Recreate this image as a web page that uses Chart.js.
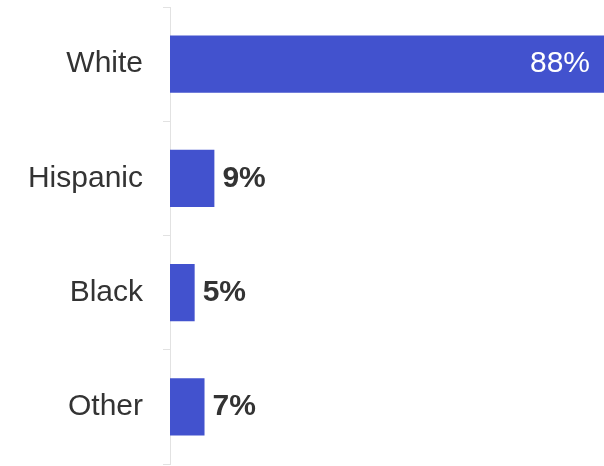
<!DOCTYPE html>
<html>
<head>
<meta charset="utf-8">
<script src="https://cdn.jsdelivr.net/npm/chart.js@4/dist/chart.umd.min.js"></script>
<style>
  html, body { margin: 0; padding: 0; background: #fff; }
  #wrap { width: 604px; height: 466px; position: relative; }
</style>
</head>
<body>
<div id="wrap"><canvas id="barChart"></canvas></div>
<script>
var categories = ['White', 'Hispanic', 'Black', 'Other'];
var shares = [88, 9, 5, 7];
var barColor = '#4252ce';

// percent labels: inside the bar (white) if it's the long one, else just past the end
var valueLabels = {
  id: 'valueLabels',
  afterDatasetsDraw: function(chart) {
    var ctx = chart.ctx;
    var meta = chart.getDatasetMeta(0);
    ctx.save();
    ctx.textBaseline = 'middle';
    meta.data.forEach(function(bar, i) {
      var txt = shares[i] + '%';
      if (shares[i] > 50) {
        ctx.font = '30px Arial, "Liberation Sans", sans-serif';
        ctx.fillStyle = '#ffffff';
        ctx.textAlign = 'right';
        ctx.fillText(txt, bar.x - 14, bar.y);
      } else {
        ctx.font = 'bold 30px Arial, "Liberation Sans", sans-serif';
        ctx.fillStyle = '#333333';
        ctx.textAlign = 'left';
        ctx.fillText(txt, bar.x + 8, bar.y);
      }
    });
    ctx.restore();
  }
};

var ctx = document.getElementById('barChart').getContext('2d');
var barChart = new Chart(ctx, {
  type: 'bar',
  data: {
    labels: categories,
    datasets: [{
      data: shares,
      backgroundColor: barColor,
      borderWidth: 0,
      barPercentage: 0.5,
      categoryPercentage: 1.0
    }]
  },
  options: {
    indexAxis: 'y',
    responsive: true,
    maintainAspectRatio: false,
    animation: false,
    layout: { padding: { top: 7, bottom: 2, left: 0, right: 0 } },
    plugins: {
      legend: { display: false },
      tooltip: { enabled: false }
    },
    scales: {
      x: {
        display: false,
        min: 0,
        max: 88
      },
      y: {
        afterFit: function(scale) {
          scale.width = 170;
          scale.paddingTop = 0;
          scale.paddingBottom = 0;
        },
        grid: {
          drawOnChartArea: false,
          drawTicks: true,
          tickLength: 7,
          color: '#e2e2e2'
        },
        border: { display: true, color: '#e2e2e2', width: 1 },
        ticks: {
          padding: 20,
          color: '#333333',
          font: { family: 'Arial, "Liberation Sans", sans-serif', size: 30 }
        }
      }
    }
  },
  plugins: [valueLabels]
});
</script>
</body>
</html>
